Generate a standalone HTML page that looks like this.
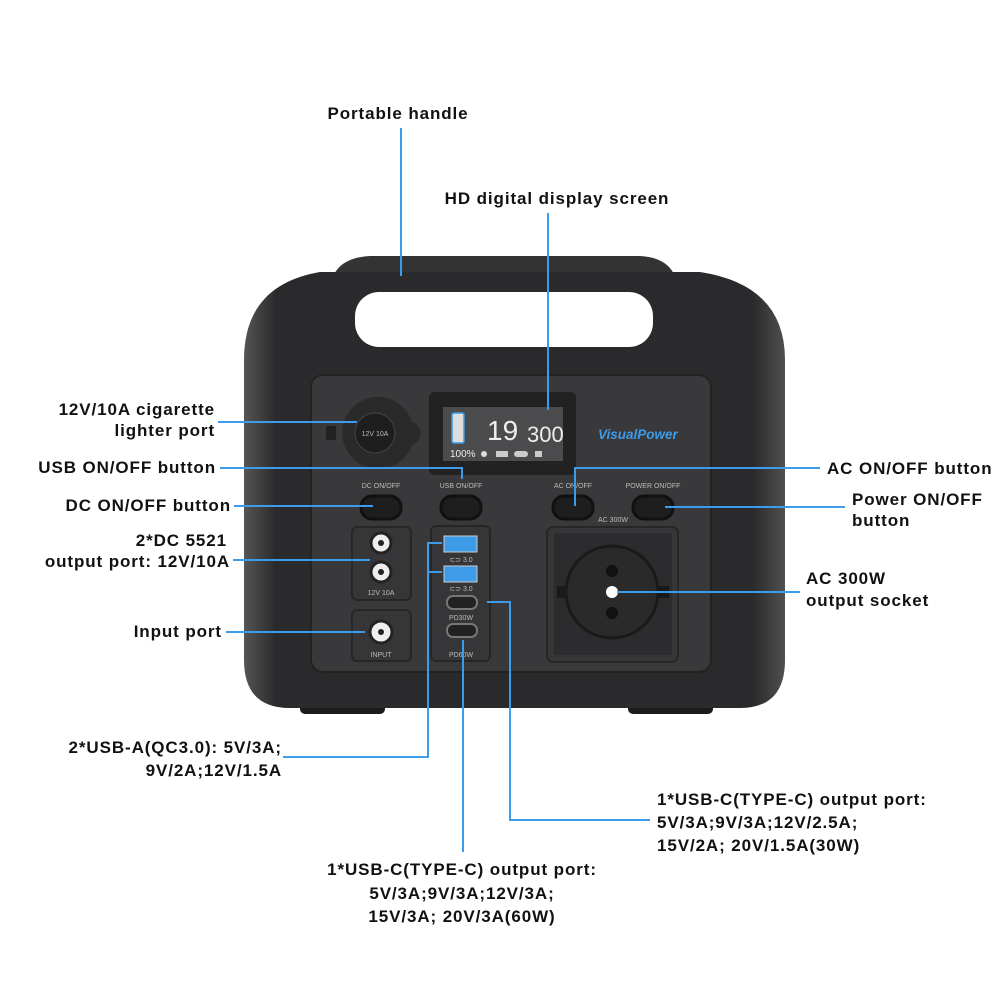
<!DOCTYPE html>
<html><head><meta charset="utf-8"><style>
html,body{margin:0;padding:0;background:#fff;width:1000px;height:1000px;overflow:hidden}
svg{display:block}
.t{font-family:"Liberation Sans",sans-serif;font-weight:bold;font-size:17px;letter-spacing:0.9px;fill:#111}
.s{font-family:"Liberation Sans",sans-serif;font-size:7px;fill:#bbb}
.l{stroke:#3d9be9;stroke-width:2;fill:none}
</style></head><body>
<svg width="1000" height="1000" viewBox="0 0 1000 1000">
<defs>
<linearGradient id="bg" x1="0" x2="1" y1="0" y2="0">
<stop offset="0" stop-color="#555"/><stop offset="0.06" stop-color="#2a2a2c"/><stop offset="0.94" stop-color="#2a2a2c"/><stop offset="1" stop-color="#505050"/>
</linearGradient>
</defs>
<rect x="300" y="700" width="85" height="14" rx="5" fill="#1c1c1c"/>
<rect x="628" y="700" width="85" height="14" rx="5" fill="#1c1c1c"/>
<path d="M330 345 L330 290 Q332 258 370 256 L640 256 Q676 258 678 290 L678 345 Z" fill="#333"/>
<path d="M244 360 Q244 285 320 272 L700 272 Q785 285 785 360 L785 660 Q785 708 740 708 L290 708 Q244 708 244 660 Z" fill="url(#bg)"/>
<rect x="355" y="292" width="298" height="55" rx="24" fill="#fff"/>
<rect x="311" y="375" width="400" height="297" rx="12" fill="#39393b" stroke="#222" stroke-width="2"/>
<rect x="429" y="392" width="147" height="83" rx="5" fill="#222"/>
<rect x="443" y="407" width="120" height="54" fill="#4b4b4d"/>
<rect x="452" y="413" width="12" height="30" rx="2" fill="#ddd" stroke="#3d9be9" stroke-width="1.5"/>
<text x="487" y="440" font-family="Liberation Sans" font-size="28" fill="#eee">19</text>
<text x="527" y="442" font-family="Liberation Sans" font-size="22" fill="#eee">300</text>
<text x="450" y="457" font-family="Liberation Sans" font-size="10" fill="#eee">100%</text>
<circle cx="484" cy="454" r="3" fill="#ddd"/>
<rect x="496" y="451" width="12" height="6" fill="#ccc"/><rect x="514" y="451" width="14" height="6" rx="3" fill="#ccc"/><rect x="535" y="451" width="7" height="6" fill="#ccc"/>
<text x="598" y="439" font-family="Liberation Sans" font-weight="bold" font-style="italic" font-size="13.5" fill="#3d9be9">VisualPower</text>
<rect x="326" y="426" width="10" height="14" fill="#222"/>
<path d="M375 397 A36 36 0 1 0 412 445 A12 12 0 0 0 412 422 A36 36 0 0 0 375 397 Z" fill="#2a2a2a"/>
<circle cx="375" cy="433" r="20" fill="#1e1e1e" stroke="#444"/>
<text x="375" y="436" class="s" text-anchor="middle" fill="#ccc">12V 10A</text>
<g class="s" text-anchor="middle" font-size="7.5">
<text x="381" y="488">DC ON/OFF</text><text x="461" y="488">USB ON/OFF</text><text x="573" y="488">AC ON/OFF</text><text x="653" y="488">POWER ON/OFF</text>
<text x="613" y="522">AC 300W</text>
</g>
<g fill="#1e1e1e" stroke="#111" stroke-width="3">
<rect x="361" y="496" width="40" height="23" rx="11"/><rect x="441" y="496" width="40" height="23" rx="11"/>
<rect x="553" y="496" width="40" height="23" rx="11"/><rect x="633" y="496" width="40" height="23" rx="11"/>
</g>
<rect x="352" y="527" width="59" height="73" rx="5" fill="#363638" stroke="#262626" stroke-width="2"/>
<rect x="352" y="610" width="59" height="51" rx="5" fill="#363638" stroke="#262626" stroke-width="2"/>
<g fill="#eee" stroke="#222" stroke-width="3">
<circle cx="381" cy="543" r="10"/><circle cx="381" cy="572" r="10"/><circle cx="381" cy="632" r="11"/>
</g>
<g fill="#222"><circle cx="381" cy="543" r="3"/><circle cx="381" cy="572" r="3"/><circle cx="381" cy="632" r="3"/></g>
<text x="381" y="595" class="s" text-anchor="middle">12V 10A</text>
<text x="381" y="657" class="s" text-anchor="middle">INPUT</text>
<rect x="431" y="526" width="59" height="135" rx="5" fill="#363638" stroke="#262626" stroke-width="2"/>
<rect x="444" y="536" width="33" height="16" fill="#3d9be9" stroke="#ccc"/>
<rect x="444" y="566" width="33" height="16" fill="#3d9be9" stroke="#ccc"/>
<rect x="447" y="596" width="30" height="13" rx="6" fill="#222" stroke="#777" stroke-width="2"/>
<rect x="447" y="624" width="30" height="13" rx="6" fill="#222" stroke="#777" stroke-width="2"/>
<g class="s" text-anchor="middle"><text x="461" y="562">⊂⊃ 3.0</text><text x="461" y="591">⊂⊃ 3.0</text><text x="461" y="620">PD30W</text><text x="461" y="657">PD60W</text></g>
<rect x="547" y="527" width="131" height="135" rx="6" fill="#363638" stroke="#262626" stroke-width="2"/>
<rect x="554" y="533" width="118" height="122" fill="#2c2c2e"/>
<rect x="557" y="586" width="112" height="12" fill="#1a1a1a"/>
<circle cx="612" cy="592" r="46" fill="#2a2a2a" stroke="#1a1a1a" stroke-width="3"/>
<circle cx="612" cy="571" r="6" fill="#111"/><circle cx="612" cy="613" r="6" fill="#111"/>
<circle cx="612" cy="592" r="6" fill="#fff"/>
<g class="l">
<path d="M401 128 V276"/>
<path d="M548 213 V410"/>
<path d="M218 422 H357"/>
<path d="M220 468 H462 V479"/>
<path d="M234 506 H373"/>
<path d="M233 560 H370"/>
<path d="M226 632 H365"/>
<path d="M283 757 H428 V543 H442 M428 572 H442"/>
<path d="M487 602 H510 V820 H650"/>
<path d="M463 640 V852"/>
<path d="M820 468 H575 V506"/>
<path d="M665 507 H845"/>
<path d="M617 592 H800"/>
</g>
<g class="t">
<text x="398" y="119" text-anchor="middle">Portable handle</text>
<text x="557" y="204" text-anchor="middle">HD digital display screen</text>
<text x="215" y="415" text-anchor="end">12V/10A cigarette</text>
<text x="215" y="436" text-anchor="end">lighter port</text>
<text x="216" y="473" text-anchor="end">USB ON/OFF button</text>
<text x="231" y="511" text-anchor="end">DC ON/OFF button</text>
<text x="227" y="546" text-anchor="end">2*DC 5521</text>
<text x="230" y="567" text-anchor="end">output port: 12V/10A</text>
<text x="222" y="637" text-anchor="end">Input port</text>
<text x="282" y="753" text-anchor="end">2*USB-A(QC3.0): 5V/3A;</text>
<text x="282" y="776" text-anchor="end">9V/2A;12V/1.5A</text>
<text x="657" y="805">1*USB-C(TYPE-C) output port:</text>
<text x="657" y="828">5V/3A;9V/3A;12V/2.5A;</text>
<text x="657" y="851">15V/2A; 20V/1.5A(30W)</text>
<text x="462" y="875" text-anchor="middle">1*USB-C(TYPE-C) output port:</text>
<text x="462" y="899" text-anchor="middle">5V/3A;9V/3A;12V/3A;</text>
<text x="462" y="922" text-anchor="middle">15V/3A; 20V/3A(60W)</text>
<text x="827" y="474">AC ON/OFF button</text>
<text x="852" y="505">Power ON/OFF</text>
<text x="852" y="526">button</text>
<text x="806" y="584">AC 300W</text>
<text x="806" y="606">output socket</text>
</g>
</svg>
</body></html>
